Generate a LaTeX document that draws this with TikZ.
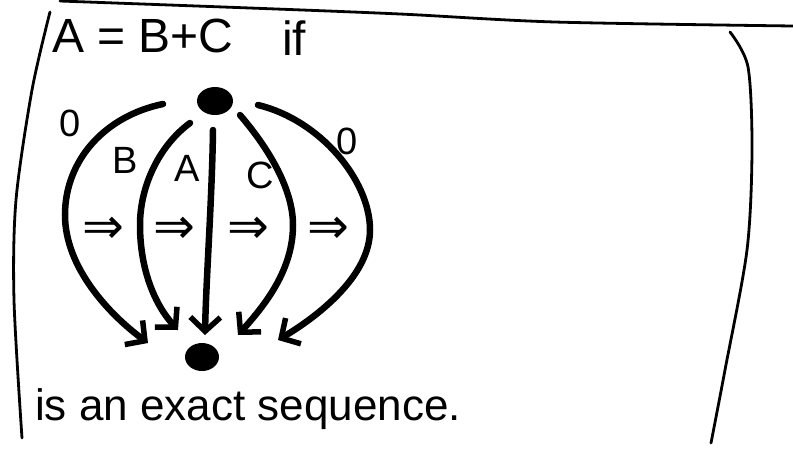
\documentclass[tikz,border=0pt]{standalone}
\usepackage{fontspec}
\setmainfont{Liberation Sans}
\newfontfamily\arrowfont{DejaVu Sans}
\usetikzlibrary{arrows.meta,shapes.geometric}
\begin{document}
\begin{tikzpicture}[x=1pt,y=-1pt,
  frame/.style={line width=2.8pt, line cap=round, line join=round},
  arc/.style={line width=6.5pt, line cap=round, -{Straight Barb[length=14pt,width=30pt,line width=5.5pt]}},
  blob/.style={ellipse, fill=black, inner sep=0pt},
  lab/.style={font=\fontsize{38}{38}\selectfont, inner sep=0pt},
  dbl/.style={font=\arrowfont\fontsize{50}{50}\selectfont, inner sep=0pt},
  txt/.style={font=\fontsize{44}{44}\selectfont, inner sep=0pt, anchor=base west}]
\useasboundingbox (0,0) rectangle (793,451);
% hand-drawn frame
\draw[frame] plot[smooth] coordinates {(60,1) (250,8) (400,14) (555,22) (793,26)};
\draw[frame] plot[smooth] coordinates {(50,12) (32,90) (16,200) (14,300) (22,438)};
\draw[frame] plot[smooth] coordinates {(730,32) (748,67) (752,150) (747,250) (725,370) (711,443)};
% texts
\node[txt, font=\fontsize{48}{48}\selectfont] (eq) at (52,52) {A = B+C};
\node[txt, font=\fontsize{48}{48}\selectfont] (if) at (282,55) {if};
\node[txt] (seq) at (35,420) {is an exact sequence.};
% dots
\node[blob, minimum width=36pt, minimum height=28pt] (t) at (215,101) {};
\node[blob, minimum width=34pt, minimum height=28pt] (b) at (202,357) {};
% connector ends
\coordinate (s1) at (163,104);
\coordinate (s2) at (190,123);
\coordinate (s3) at (213,130);
\coordinate (s4) at (240,115);
\coordinate (s5) at (258,105);
\coordinate (e1) at (148,343);
\coordinate (e2) at (178,330);
\coordinate (e3) at (205,335);
\coordinate (e4) at (238,335);
\coordinate (e5) at (278,340);
% arcs
\draw[arc] (s1) .. controls (105,116) and (65,160) .. (65,215) .. controls (65,268) and (110,315) .. (e1);
\draw[arc] (s2) .. controls (160,145) and (140,185) .. (140,225) .. controls (140,270) and (155,305) .. (e2);
\draw[arc] (s3) .. controls (212,200) and (206,280) .. (e3);
\draw[arc] (s4) .. controls (270,150) and (293,190) .. (293,225) .. controls (293,270) and (265,305) .. (e4);
\draw[arc] (s5) .. controls (320,120) and (370,180) .. (370,230) .. controls (370,275) and (320,315) .. (e5);
% labels
\node[lab] (z1) at (70,123) {0};
\node[lab] (lb) at (125,160) {B};
\node[lab] (la) at (187,168) {A};
\node[lab] (lc) at (260,175) {C};
\node[lab] (z2) at (347,141) {0};
% double arrows
\node[dbl] (d1) at (103,230) {⇒};
\node[dbl] (d2) at (174,230) {⇒};
\node[dbl] (d3) at (248,230) {⇒};
\node[dbl] (d4) at (328,230) {⇒};
\end{tikzpicture}
\end{document}
